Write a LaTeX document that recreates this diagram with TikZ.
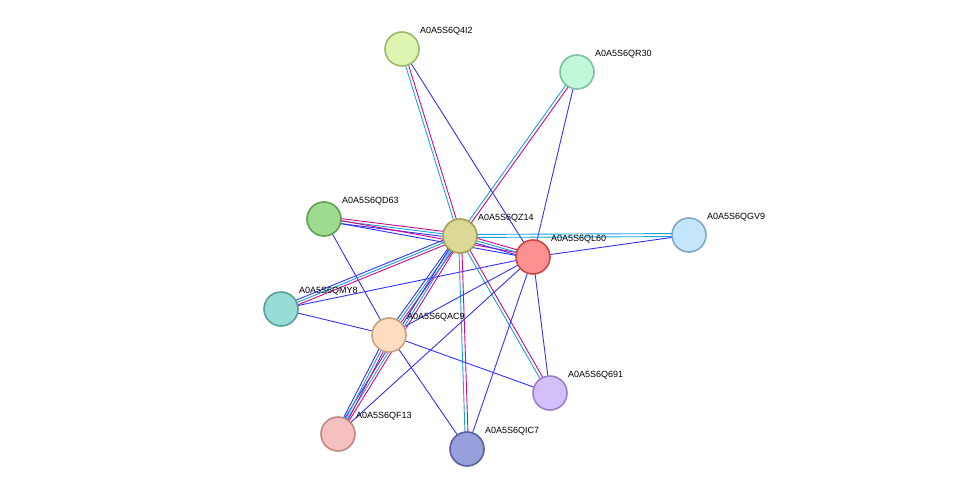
\documentclass[tikz,border=0pt]{standalone}
\usepackage{fontspec}
\setmainfont{Liberation Sans}
\usetikzlibrary{calc}
\tikzset{
  prot/.style={circle,draw,line width=1.6pt,minimum size=34pt,inner sep=0pt},
  lbl/.style={anchor=south west,font=\fontsize{9}{10}\selectfont,inner sep=0pt},
  tm/.style={draw=magenta!85!blue,line width=0.9pt},
  db/.style={draw=cyan!80!teal,line width=0.9pt},
  co/.style={draw=blue!80!white,line width=0.9pt}
}
% one line of an edge, shifted sideways by #3
\newcommand{\strand}[4]{\draw[#4] ($(#1)!#3!90:(#2)$) -- ($(#2)!#3!-90:(#1)$);}
\begin{document}
\begin{tikzpicture}[x=1pt,y=-1pt]
\useasboundingbox (0,0) rectangle (975,495);

% The positions
\coordinate (q4i2) at (402,49);
\coordinate (qr30) at (577,72);
\coordinate (qd63) at (324,219);
\coordinate (qz14) at (460,236);
\coordinate (ql60) at (533,257);
\coordinate (qgv9) at (689,235);
\coordinate (qmy8) at (281,309);
\coordinate (qac9) at (389,335);
\coordinate (q691) at (550,393);
\coordinate (qf13) at (338,434);
\coordinate (qic7) at (467,449);

% Edges
\strand{q4i2}{qz14}{1.5pt}{tm} \strand{q4i2}{qz14}{-1.5pt}{db}
\strand{qr30}{qz14}{1.5pt}{tm} \strand{qr30}{qz14}{-1.5pt}{db}
\strand{q4i2}{ql60}{0pt}{co} \strand{qr30}{ql60}{0pt}{co}
\strand{qd63}{qz14}{2.5pt}{tm} \strand{qd63}{qz14}{0pt}{db} \strand{qd63}{qz14}{-2.5pt}{co}
\strand{qd63}{ql60}{1.5pt}{tm} \strand{qd63}{ql60}{-1.5pt}{co}
\strand{qd63}{qac9}{0pt}{co}
\strand{qz14}{ql60}{2.5pt}{tm} \strand{qz14}{ql60}{0pt}{db} \strand{qz14}{ql60}{-2.5pt}{co}
\strand{qz14}{qgv9}{1.5pt}{db} \strand{qz14}{qgv9}{-1.5pt}{db}
\strand{ql60}{qgv9}{0pt}{co}
\strand{qz14}{qmy8}{2.5pt}{tm} \strand{qz14}{qmy8}{0pt}{db} \strand{qz14}{qmy8}{-2.5pt}{co}
\strand{qmy8}{ql60}{0pt}{co} \strand{qmy8}{qac9}{0pt}{co}
\strand{qz14}{qac9}{2.5pt}{tm} \strand{qz14}{qac9}{0pt}{db} \strand{qz14}{qac9}{-2.5pt}{co}
\strand{qz14}{qf13}{2.5pt}{tm} \strand{qz14}{qf13}{0pt}{db} \strand{qz14}{qf13}{-2.5pt}{co}
\strand{qz14}{qic7}{1.5pt}{tm} \strand{qz14}{qic7}{-1.5pt}{db}
\strand{qz14}{q691}{1.5pt}{tm} \strand{qz14}{q691}{-1.5pt}{db}
\strand{ql60}{qac9}{0pt}{co} \strand{ql60}{qf13}{0pt}{co}
\strand{ql60}{qic7}{0pt}{co} \strand{ql60}{q691}{0pt}{co}
\strand{qac9}{qf13}{2.5pt}{tm} \strand{qac9}{qf13}{0pt}{db} \strand{qac9}{qf13}{-2.5pt}{co}
\strand{qac9}{qic7}{0pt}{co} \strand{qac9}{q691}{0pt}{co}

% Nodes
\node[prot,fill={rgb,255:red,221;green,245;blue,176},draw={rgb,255:red,157;green,184;blue,106}] (n4i2) at (q4i2) {};
\node[prot,fill={rgb,255:red,194;green,248;blue,218},draw={rgb,255:red,128;green,192;blue,158}] (nr30) at (qr30) {};
\node[prot,fill={rgb,255:red,158;green,219;blue,142},draw={rgb,255:red,94;green,160;blue,80}] (nd63) at (qd63) {};
\node[prot,fill={rgb,255:red,220;green,216;blue,151},draw={rgb,255:red,163;green,160;blue,80}] (nz14) at (qz14) {};
\node[prot,fill={rgb,255:red,250;green,144;blue,144},draw={rgb,255:red,200;green,72;blue,72}] (nl60) at (ql60) {};
\node[prot,fill={rgb,255:red,196;green,230;blue,250},draw={rgb,255:red,128;green,168;blue,200}] (ngv9) at (qgv9) {};
\node[prot,fill={rgb,255:red,152;green,220;blue,214},draw={rgb,255:red,88;green,160;blue,154}] (nmy8) at (qmy8) {};
\node[prot,fill={rgb,255:red,255;green,220;blue,192},draw={rgb,255:red,200;green,160;blue,128}] (nac9) at (qac9) {};
\node[prot,fill={rgb,255:red,212;green,192;blue,248},draw={rgb,255:red,154;green,128;blue,200}] (n691) at (q691) {};
\node[prot,fill={rgb,255:red,244;green,192;blue,192},draw={rgb,255:red,192;green,136;blue,136}] (nf13) at (qf13) {};
\node[prot,fill={rgb,255:red,152;green,160;blue,220},draw={rgb,255:red,88;green,96;blue,160}] (nic7) at (qic7) {};

% Labels
\node[lbl] at ($(q4i2)+(18,-14)$) {A0A5S6Q4I2};
\node[lbl] at ($(qr30)+(18,-14)$) {A0A5S6QR30};
\node[lbl] at ($(qd63)+(18,-14)$) {A0A5S6QD63};
\node[lbl] at ($(qz14)+(18,-14)$) {A0A5S6QZ14};
\node[lbl] at ($(ql60)+(18,-14)$) {A0A5S6QL60};
\node[lbl] at ($(qgv9)+(18,-14)$) {A0A5S6QGV9};
\node[lbl] at ($(qmy8)+(18,-14)$) {A0A5S6QMY8};
\node[lbl] at ($(qac9)+(18,-14)$) {A0A5S6QAC9};
\node[lbl] at ($(q691)+(18,-14)$) {A0A5S6Q691};
\node[lbl] at ($(qf13)+(18,-14)$) {A0A5S6QF13};
\node[lbl] at ($(qic7)+(18,-14)$) {A0A5S6QIC7};
\end{tikzpicture}
\end{document}
